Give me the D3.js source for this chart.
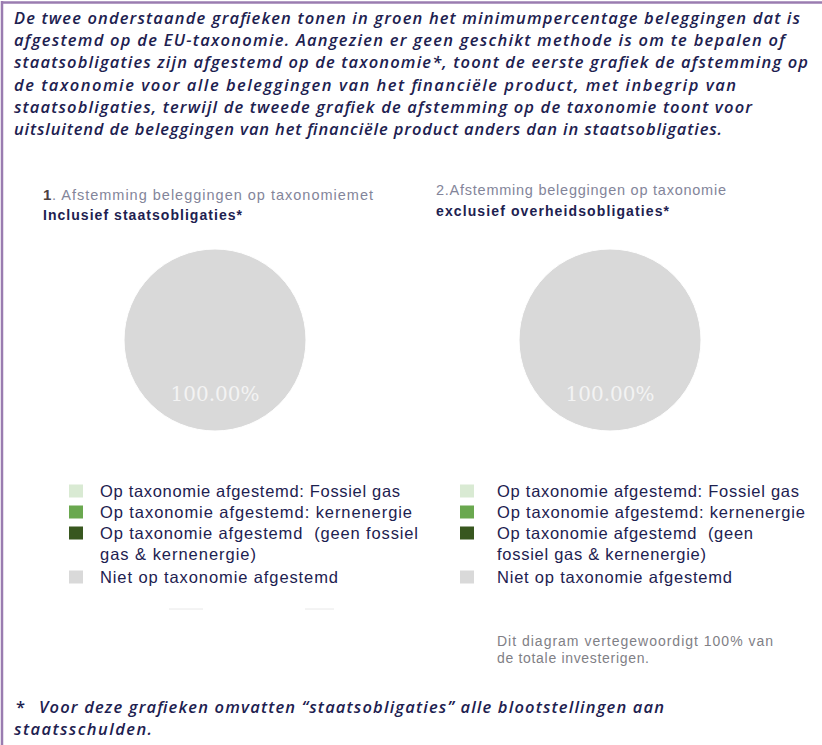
<!DOCTYPE html>
<html>
<head>
<meta charset="utf-8">
<script src="https://cdn.jsdelivr.net/npm/d3@7"></script>
<style>
  html, body { margin: 0; padding: 0; background: #ffffff; }
  svg { display: block; }
  .pre { white-space: pre; }
</style>
</head>
<body>
<svg id="chart" width="822" height="745"></svg>
<script>
// ---------------- DATA ----------------
const categories = [
  "Op taxonomie afgestemd: Fossiel gas",
  "Op taxonomie afgestemd: kernenergie",
  "Op taxonomie afgestemd  (geen fossiel gas & kernenergie)",
  "Niet op taxonomie afgestemd"
];
const categoryColors = ["#d9ead3", "#6aa84f", "#38571f", "#d9d9d9"];
const valuesInclusief = [0, 0, 0, 100];
const valuesExclusief = [0, 0, 0, 100];

const introLines = [
  "De twee onderstaande grafieken tonen in groen het minimumpercentage beleggingen dat is",
  "afgestemd op de EU-taxonomie. Aangezien er geen geschikt methode is om te bepalen of",
  "staatsobligaties zijn afgestemd op de taxonomie*, toont de eerste grafiek de afstemming op",
  "de taxonomie voor alle beleggingen van het financiële product, met inbegrip van",
  "staatsobligaties, terwijl de tweede grafiek de afstemming op de taxonomie toont voor",
  "uitsluitend de beleggingen van het financiële product anders dan in staatsobligaties."
];
const introWidths = [786, 771, 794, 722, 738, 708];

const chart1Title = ["1", ". Afstemming beleggingen op taxonomiemet", "Inclusief staatsobligaties*"];
const chart2Title = ["2.Afstemming beleggingen op taxonomie", "exclusief overheidsobligaties*"];

const legend1Lines = [
  ["Op taxonomie afgestemd: Fossiel gas"],
  ["Op taxonomie afgestemd: kernenergie"],
  ["Op taxonomie afgestemd  (geen fossiel", "gas & kernenergie)"],
  ["Niet op taxonomie afgestemd"]
];
const legend1Widths = [[300], [312], [318, 156], [238]];
const legend2Lines = [
  ["Op taxonomie afgestemd: Fossiel gas"],
  ["Op taxonomie afgestemd: kernenergie"],
  ["Op taxonomie afgestemd  (geen", "fossiel gas & kernenergie)"],
  ["Niet op taxonomie afgestemd"]
];
const legend2Widths = [[302], [308], [256, 209], [235]];

const noteLines = ["Dit diagram vertegewoordigt 100% van", "de totale investerigen."];
const footnoteLines = ["*", "Voor deze grafieken omvatten “staatsobligaties” alle blootstellingen aan", "staatsschulden."];

// ---------------- DRAW ----------------
const svg = d3.select("#chart");
const navy = "#1d2150";
const bodyFont = "Open Sans, Liberation Sans, Arial, sans-serif";
const sansFont = "Liberation Sans, Arial, sans-serif";

// frame
svg.append("line").attr("x1", 2).attr("x2", 2).attr("y1", 1).attr("y2", 745)
  .attr("stroke", "#9a7cb0").attr("stroke-width", 2.5);
svg.append("line").attr("x1", 1).attr("x2", 822).attr("y1", 2.5).attr("y2", 2.5)
  .attr("stroke", "#9a7cb0").attr("stroke-width", 2.5);

// intro paragraph
svg.append("g").selectAll("text").data(introLines).join("text")
  .attr("x", 14)
  .attr("y", (d, i) => 24 + i * 22.2)
  .attr("font-family", bodyFont)
  .attr("font-style", "italic")
  .attr("font-weight", 600)
  .attr("font-size", 16.5)
  .attr("fill", navy)
  .attr("textLength", (d, i) => introWidths[i])
  .attr("lengthAdjust", "spacing")
  .text(d => d);

function drawPie(cx, cy, values) {
  const r = 91;
  const pie = d3.pie().sort(null).value(d => d.v);
  const arcs = pie(values.map((v, i) => ({ v, i })));
  const arc = d3.arc().innerRadius(0).outerRadius(r);
  const labelArc = d3.arc().innerRadius(r * 0.58).outerRadius(r * 0.58);
  const g = svg.append("g").attr("transform", `translate(${cx},${cy})`);
  g.selectAll("path").data(arcs).join("path")
    .attr("d", arc)
    .attr("fill", d => categoryColors[d.data.i])
    .attr("stroke", "#ffffff")
    .attr("stroke-width", 1);
  g.selectAll("text").data(arcs.filter(d => d.data.v > 0)).join("text")
    .attr("x", d => labelArc.centroid(d)[0])
    .attr("y", d => labelArc.centroid(d)[1] + 1)
    .attr("dy", "0.35em")
    .attr("text-anchor", "middle")
    .attr("font-family", "DejaVu Serif, serif")
    .attr("font-size", 20)
    .attr("fill", "#f3f3f3")
    .text(d => d3.format(".2f")(d.data.v) + "%");
}
drawPie(215, 340, valuesInclusief);
drawPie(610, 340, valuesExclusief);

// chart titles
svg.append("text").attr("x", 43).attr("y", 200)
  .attr("font-family", sansFont).attr("font-weight", "bold").attr("font-size", 15)
  .attr("fill", "#4d4040").text(chart1Title[0]);
svg.append("text").attr("x", 52).attr("y", 200)
  .attr("font-family", sansFont).attr("font-size", 14.5)
  .attr("fill", "#83859a").attr("textLength", 321).attr("lengthAdjust", "spacing")
  .text(chart1Title[1]);
svg.append("text").attr("x", 43).attr("y", 220)
  .attr("font-family", sansFont).attr("font-weight", "bold").attr("font-size", 14)
  .attr("fill", navy).attr("textLength", 199).attr("lengthAdjust", "spacing")
  .text(chart1Title[2]);
svg.append("text").attr("x", 436).attr("y", 195)
  .attr("font-family", sansFont).attr("font-size", 14.5)
  .attr("fill", "#83859a").attr("textLength", 290).attr("lengthAdjust", "spacing")
  .text(chart2Title[0]);
svg.append("text").attr("x", 436).attr("y", 216)
  .attr("font-family", sansFont).attr("font-weight", "bold").attr("font-size", 14)
  .attr("fill", navy).attr("textLength", 233).attr("lengthAdjust", "spacing")
  .text(chart2Title[1]);

// legends
function drawLegend(boxX, textX, lines, widths) {
  const rowY = [491, 512, 533, 577];
  const g = svg.append("g");
  categories.forEach((c, i) => {
    g.append("rect").attr("x", boxX).attr("y", rowY[i] - 6.5)
      .attr("width", 14).attr("height", 13).attr("fill", categoryColors[i]);
    lines[i].forEach((ln, j) => {
      g.append("text").attr("class", "pre").attr("x", textX).attr("y", rowY[i] + 5.5 + j * 21)
        .attr("font-family", sansFont)
        .attr("font-size", 16.5)
        .attr("fill", navy)
        .attr("textLength", widths[i][j])
        .attr("lengthAdjust", "spacing")
        .text(ln);
    });
  });
}
drawLegend(69, 100, legend1Lines, legend1Widths);
drawLegend(460, 497, legend2Lines, legend2Widths);

// faint separators below legend 1
svg.append("line").attr("x1", 169).attr("x2", 203).attr("y1", 609).attr("y2", 609)
  .attr("stroke", "#e8e8e8").attr("stroke-width", 1);
svg.append("line").attr("x1", 305).attr("x2", 334).attr("y1", 609).attr("y2", 609)
  .attr("stroke", "#e8e8e8").attr("stroke-width", 1);

// note
const noteW = [276, 152];
svg.append("g").selectAll("text").data(noteLines).join("text")
  .attr("x", 497).attr("y", (d, i) => 646 + i * 17)
  .attr("font-family", sansFont)
  .attr("font-size", 14).attr("fill", "#7f8086")
  .attr("textLength", (d, i) => noteW[i]).attr("lengthAdjust", "spacing")
  .text(d => d);

// footnote
svg.append("text").attr("x", 16).attr("y", 713)
  .attr("font-family", bodyFont).attr("font-size", 16.5).attr("font-weight", 600)
  .attr("fill", navy).text(footnoteLines[0]);
svg.append("text").attr("x", 39).attr("y", 713)
  .attr("font-family", bodyFont).attr("font-style", "italic").attr("font-weight", 600)
  .attr("font-size", 16.5).attr("fill", navy)
  .attr("textLength", 625).attr("lengthAdjust", "spacing").text(footnoteLines[1]);
svg.append("text").attr("x", 14).attr("y", 735)
  .attr("font-family", bodyFont).attr("font-style", "italic").attr("font-weight", 600)
  .attr("font-size", 16.5).attr("fill", navy)
  .attr("textLength", 138).attr("lengthAdjust", "spacing").text(footnoteLines[2]);
</script>
</body>
</html>
